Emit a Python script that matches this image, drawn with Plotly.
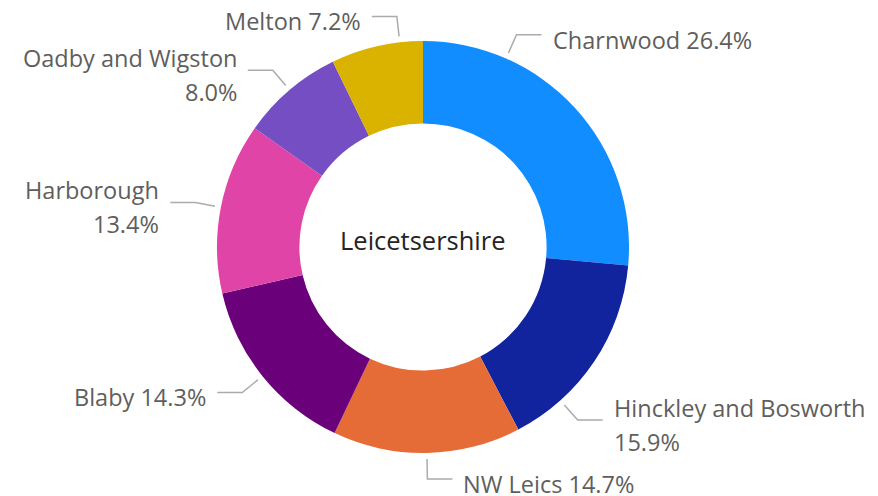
import math
import plotly.graph_objects as go

# District shares of the county total (%)
districts = ["Charnwood", "Hinckley and Bosworth", "NW Leics", "Blaby",
             "Harborough", "Oadby and Wigston", "Melton"]
shares = [26.4, 15.9, 14.7, 14.3, 13.4, 8.0, 7.2]
label_lines = [["Charnwood 26.4%"], ["Hinckley and Bosworth", "15.9%"], ["NW Leics 14.7%"],
               ["Blaby 14.3%"], ["Harborough", "13.4%"], ["Oadby and Wigston", "8.0%"],
               ["Melton 7.2%"]]
colors = ["#118DFF", "#12239E", "#E66C37", "#6B007B", "#E044A7", "#744EC2", "#D9B300"]
# angular nudges (degrees) that keep crowded labels apart
leader_nudge = [-23.8, 14.4, 0, 0, 0, 0, 6.5]
center_title = "Leicetsershire"

W, H = 878, 496
CX, CY, R = 423, 247, 206
FONT = "Open Sans, Segoe UI, sans-serif"
LABEL_SIZE = 23.5


def px(x):
    return x / W


def py(y):
    return 1 - y / H


fig = go.Figure(go.Pie(
    labels=districts, values=shares, sort=False, direction="clockwise",
    rotation=0, hole=0.6, textinfo="none", hoverinfo="skip",
    marker=dict(colors=colors, line=dict(width=0)),
    domain=dict(x=[px(CX - R), px(CX + R)], y=[py(CY + R), py(CY - R)]),
    showlegend=False,
))

total = sum(shares)
shapes, annotations = [], []
cum = 0.0
for name, val, lines, nudge in zip(districts, shares, label_lines, leader_nudge):
    mid = (cum + val / 2) / total * 360 + nudge
    cum += val
    a = math.radians(mid)
    sx, sy = CX + (R + 6) * math.sin(a), CY - (R + 6) * math.cos(a)
    ex, ey = CX + (R + 26) * math.sin(a), CY - (R + 26) * math.cos(a)
    side = 1 if (mid % 360) < 180 else -1
    hx = ex + side * 25
    shapes.append(dict(
        type="path", xref="paper", yref="paper",
        path=f"M {px(sx)} {py(sy)} L {px(ex)} {py(ey)} L {px(hx)} {py(ey)}",
        line=dict(color="#ABABAB", width=1.5),
    ))
    offsets = [5] if len(lines) == 1 else [-12, 22]
    for line_txt, dy in zip(lines, offsets):
        annotations.append(dict(
            x=px(hx + side * 9), y=py(ey + dy), xref="paper", yref="paper",
            text=line_txt, showarrow=False,
            xanchor="left" if side > 0 else "right", yanchor="middle",
            font=dict(family=FONT, size=LABEL_SIZE, color="#605E5C"),
        ))

annotations.append(dict(
    x=px(CX), y=py(240), xref="paper", yref="paper", text=center_title,
    showarrow=False, xanchor="center", yanchor="middle",
    font=dict(family=FONT, size=25.5, color="#252423"),
))

fig.update_layout(
    width=W, height=H, margin=dict(l=0, r=0, t=0, b=0),
    paper_bgcolor="white", plot_bgcolor="white",
    shapes=shapes, annotations=annotations,
)

fig.write_html("out.html")
